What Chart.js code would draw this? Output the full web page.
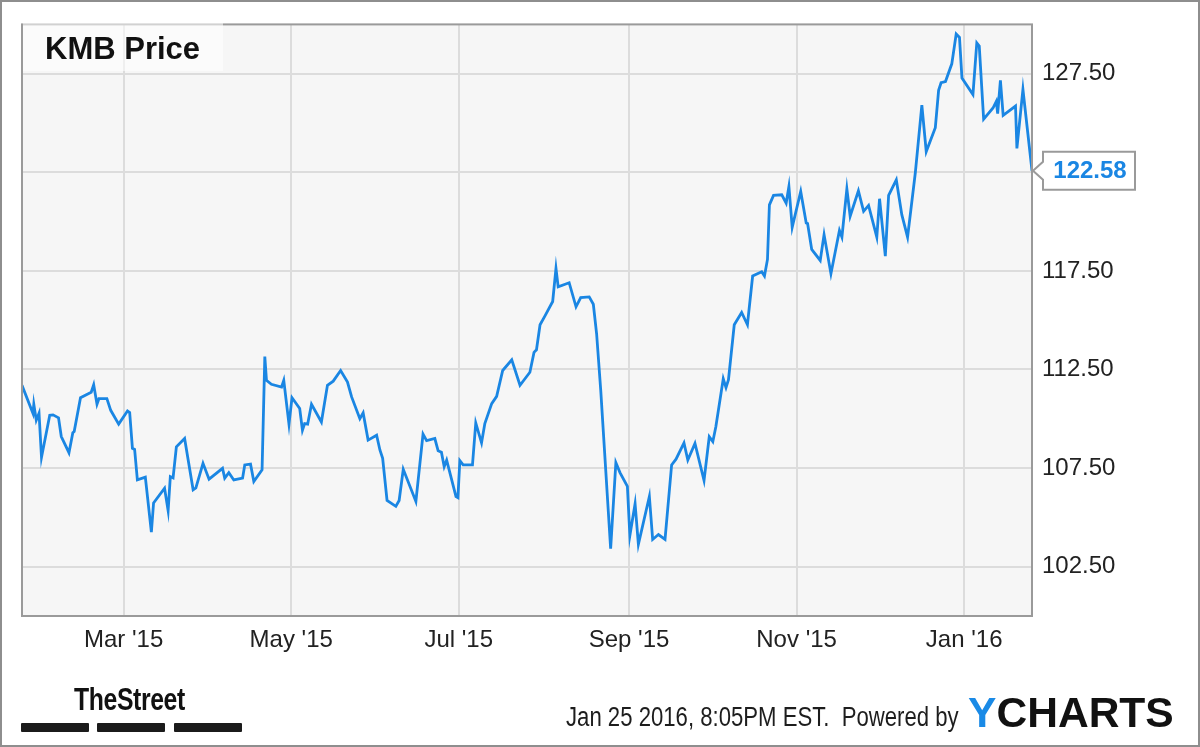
<!DOCTYPE html>
<html>
<head>
<meta charset="utf-8">
<script src="https://cdn.jsdelivr.net/npm/chart.js@4/dist/chart.umd.min.js"></script>
<style>
  body { margin: 0; background: #fff; }
  #wrap { position: relative; width: 1200px; height: 747px; overflow: hidden; font-family: 'Liberation Sans', Arial, sans-serif; }
  #chart { position: absolute; left: 0; top: 0; }
  #frame { position: absolute; left: 0; top: 0; width: 1200px; height: 747px; box-sizing: border-box; border: 2px solid #8e8e8e; pointer-events: none; }
  #title { position: absolute; left: 23px; top: 23px; width: 200px; height: 48px; background: rgba(255,255,255,0.55);
           font-weight: bold; font-size: 31px; line-height: 52px; padding-left: 22px; box-sizing: border-box; color: #111; }
  .abs { position: absolute; white-space: nowrap; line-height: 1; }
  #street { left: 74px; top: 684px; font-size: 31px; font-weight: bold; color: #111; transform: scaleX(0.8); transform-origin: left top; letter-spacing: -0.5px; }
  .bar { position: absolute; top: 723px; width: 68px; height: 9px; background: #1b1b1b; border-radius: 1px; }
  #stamp { left: 566px; top: 704px; font-size: 27px; color: #1d1d1d; transform: scaleX(0.82); transform-origin: left top; }
  #ycharts { left: 968px; top: 691px; font-size: 43px; font-weight: bold; color: #111; transform: scaleX(0.99); transform-origin: left top; }
  #ycharts span { color: #1a8ae6; }
</style>
</head>
<body>
<div id="wrap">
  <canvas id="chart" width="1200" height="747"></canvas>
  <div id="title">KMB Price</div>
  <div id="street" class="abs">TheStreet</div>
  <div class="bar" style="left:21px"></div>
  <div class="bar" style="left:97px"></div>
  <div class="bar" style="left:174px"></div>
  <div id="stamp" class="abs">Jan 25 2016, 8:05PM EST.&nbsp; Powered by</div>
  <div id="ycharts" class="abs"><span>Y</span>CHARTS</div>
  <div id="frame"></div>
</div>
<script>
// days counted from Jan 23 2015
const tradeDays = [
  0, 4.0, 4.3, 5.2, 6.2, 7.1, 10.1, 11.3, 13.3, 14.3, 17.1, 18.5, 19.0, 21.3, 25.2, 26.1, 27.3, 28.0, 30.9, 32.3,
  35.2, 38.4, 39.2, 40.2, 41.0, 42.0, 44.9, 47.1, 47.9, 51.9, 53.2, 54.0, 55.0, 56.2, 59.2, 62.3, 63.3, 65.9, 68.1, 73.0,
  73.8, 75.3, 77.1, 80.3, 81.1, 83.2, 84.4, 87.4, 88.4, 89.0, 90.8, 94.5, 95.3, 97.2, 98.3, 101.1, 102.1, 102.9, 104.0, 105.4,
  109.0, 111.2, 113.3, 116.0, 118.5, 120.0, 123.0, 124.2, 126.0, 129.1, 130.3, 131.3, 132.9, 136.1, 137.3, 138.8, 143.4, 146.0, 147.3, 150.3,
  151.5, 152.7, 153.7, 154.6, 158.0, 158.7, 159.4, 160.6, 164.0, 165.2, 167.3, 168.5, 171.0, 172.8, 175.0, 178.3, 181.3, 184.9, 186.4, 187.3,
  188.6, 190.4, 193.2, 194.4, 195.2, 199.2, 201.7, 203.4, 206.5, 208.0, 209.2, 210.7, 214.3, 216.2, 217.7, 220.4, 221.3, 223.2, 224.4, 228.4,
  229.6, 231.7, 234.1, 236.5, 238.1, 241.0, 242.4, 245.0, 248.3, 250.2, 251.5, 252.6, 255.3, 256.3, 257.2, 259.3, 262.0, 264.1, 266.0, 269.3,
  270.3, 271.4, 272.1, 273.6, 276.6, 278.2, 279.2, 280.4, 283.5, 285.5, 286.0, 287.5, 290.6, 292.0, 294.5, 297.6, 298.5, 300.3, 301.5, 304.5,
  306.4, 308.2, 311.2, 312.2, 314.3, 315.5, 318.3, 320.3, 322.4, 325.2, 327.6, 329.2, 332.5, 333.7, 334.6, 336.2, 338.5, 340.1, 341.3, 342.2,
  346.2, 347.6, 348.5, 350.1, 353.5, 354.7, 355.2, 356.2, 357.2, 361.7, 362.2, 364.4, 367.7
];
const closePrices = [
  111.70, 110.27, 110.74, 109.93, 110.28, 108.05, 110.18, 110.20, 110.05, 109.10, 108.28, 109.29, 109.35, 111.07, 111.35, 111.73, 110.74, 111.02, 111.02, 110.43,
  109.73, 110.40, 110.32, 108.50, 108.45, 106.90, 107.04, 104.25, 105.73, 106.48, 105.34, 107.07, 107.00, 108.58, 109.00, 106.40, 106.50, 107.74, 106.94, 107.49,
  106.99, 107.27, 106.90, 106.99, 107.66, 107.70, 106.82, 107.41, 113.16, 111.95, 111.75, 111.61, 111.95, 109.73, 111.07, 110.52, 109.42, 109.76, 109.73, 110.74,
  109.84, 111.70, 111.91, 112.45, 111.86, 111.11, 110.00, 110.30, 108.92, 109.17, 108.42, 108.00, 105.86, 105.56, 105.86, 107.44, 105.81, 109.22, 108.89, 109.00,
  108.38, 108.30, 107.57, 107.90, 106.06, 106.00, 107.88, 107.66, 107.66, 109.79, 108.78, 109.76, 110.77, 111.14, 112.45, 112.99, 111.70, 112.36, 113.37, 113.50,
  114.77, 115.22, 115.95, 117.63, 116.69, 116.90, 115.68, 116.15, 116.18, 115.81, 114.30, 111.44, 103.41, 107.78, 107.27, 106.57, 104.08, 105.69, 103.63, 106.06,
  103.88, 104.13, 103.88, 107.66, 107.95, 108.78, 107.91, 108.75, 106.87, 109.09, 108.84, 109.60, 112.03, 111.58, 111.98, 114.77, 115.39, 114.77, 117.24, 117.46,
  117.24, 118.08, 120.85, 121.33, 121.36, 120.94, 121.78, 119.71, 121.53, 119.93, 119.90, 118.59, 118.03, 119.34, 117.36, 119.55, 119.21, 121.66, 120.27, 121.56,
  120.52, 120.82, 119.21, 121.16, 118.25, 121.33, 122.12, 120.35, 119.21, 122.45, 125.90, 123.55, 124.76, 126.66, 127.04, 127.10, 128.00, 129.51, 129.34, 127.28,
  126.44, 129.06, 128.90, 125.19, 125.76, 126.10, 125.48, 127.16, 125.39, 125.86, 123.71, 126.70, 122.58
];

const monthTickDays = [37, 98, 159, 221, 282, 343];
const monthTickLabels = ["Mar '15", "May '15", "Jul '15", "Sep '15", "Nov '15", "Jan '16"];
const priceTicks = [102.5, 107.5, 112.5, 117.5, 122.5, 127.5];

const lineBlue = '#1a86e3';
const gridGrey = '#dcdcdc';

// plot background + outline
const plotFrame = {
  id: 'plotFrame',
  beforeDraw(chart) {
    const { ctx, chartArea: a } = chart;
    ctx.save();
    ctx.fillStyle = '#f6f6f6';
    ctx.fillRect(a.left, a.top, a.right - a.left, a.bottom - a.top);
    ctx.restore();
  },
  afterDraw(chart) {
    const { ctx, chartArea: a } = chart;
    ctx.save();
    ctx.strokeStyle = '#9a9a9a';
    ctx.lineWidth = 2;
    ctx.strokeRect(a.left, a.top, a.right - a.left, a.bottom - a.top);
    ctx.restore();
  },
};

// last value callout on the right
const lastValueTag = {
  id: 'lastValueTag',
  afterDraw(chart) {
    const { ctx, chartArea: a } = chart;
    const pts = chart.getDatasetMeta(0).data;
    const last = pts[pts.length - 1];
    const y = last.y;
    const x0 = a.right + 11;
    const x1 = 1135;
    const h = 19;
    ctx.save();
    ctx.beginPath();
    ctx.moveTo(x0, y - h);
    ctx.lineTo(x1, y - h);
    ctx.lineTo(x1, y + h);
    ctx.lineTo(x0, y + h);
    ctx.lineTo(x0, y + 9);
    ctx.lineTo(a.right + 1, y);
    ctx.lineTo(x0, y - 9);
    ctx.closePath();
    ctx.fillStyle = '#fff';
    ctx.fill();
    ctx.strokeStyle = '#9a9a9a';
    ctx.lineWidth = 2;
    ctx.stroke();
    ctx.fillStyle = lineBlue;
    ctx.font = "bold 24px 'Liberation Sans', Arial, sans-serif";
    ctx.textAlign = 'center';
    ctx.textBaseline = 'middle';
    ctx.fillText(closePrices[closePrices.length - 1].toFixed(2), (x0 + x1) / 2 + 1, y + 1);
    ctx.restore();
  },
};

const ctx = document.getElementById('chart').getContext('2d');
new Chart(ctx, {
  type: 'line',
  data: {
    datasets: [{
      label: 'KMB Price',
      data: tradeDays.map((d, i) => ({ x: d, y: closePrices[i] })),
      borderColor: lineBlue,
      borderWidth: 2.8,
      pointRadius: 0,
      tension: 0,
      fill: false,
    }],
  },
  options: {
    responsive: false,
    animation: false,
    events: [],
    layout: { padding: { left: 22, top: 22, right: 0, bottom: 0 } },
    plugins: { legend: { display: false }, tooltip: { enabled: false } },
    scales: {
      x: {
        type: 'linear',
        min: 0,
        max: 367.7,
        afterBuildTicks: (scale) => { scale.ticks = monthTickDays.map((v) => ({ value: v })); },
        afterFit: (scale) => { scale.height = 131; },
        grid: { color: gridGrey, lineWidth: 2, drawTicks: false },
        border: { display: false },
        ticks: {
          callback: (value, index) => monthTickLabels[index],
          color: '#222',
          padding: 10,
          maxRotation: 0,
          font: { family: "'Liberation Sans', Arial, sans-serif", size: 24 },
        },
      },
      y: {
        type: 'linear',
        position: 'right',
        min: 100,
        max: 130,
        afterBuildTicks: (scale) => { scale.ticks = priceTicks.map((v) => ({ value: v })); },
        afterFit: (scale) => { scale.width = 168; },
        grid: { color: gridGrey, lineWidth: 2, drawTicks: false },
        border: { display: false },
        ticks: {
          callback: (value) => value.toFixed(2),
          color: '#222',
          padding: 10,
          font: { family: "'Liberation Sans', Arial, sans-serif", size: 24 },
        },
      },
    },
  },
  plugins: [plotFrame, lastValueTag],
});
</script>
</body>
</html>
